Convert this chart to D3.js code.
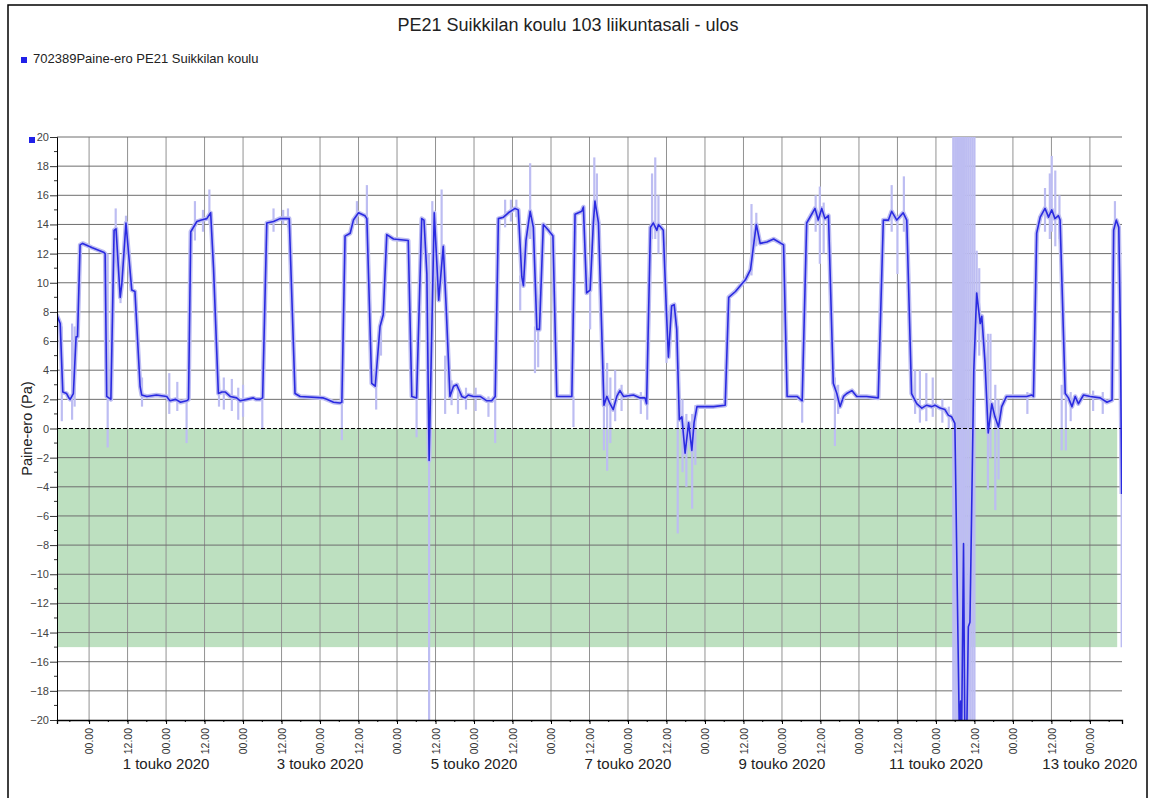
<!DOCTYPE html>
<html>
<head>
<meta charset="utf-8">
<script src="https://cdn.jsdelivr.net/npm/d3@7"></script>
<style>
  body { margin: 0; background: #fff; }
  svg { font-family: "Liberation Sans", Arial, sans-serif; }
</style>
</head>
<body>
<svg id="chart" width="1149" height="798"></svg>
<script>
// hours counted from 30.4.2020 00.00
var base = new Date(2020, 3, 30, 0, 0);
var startHour = -10, endHour = 322;

var title = "PE21 Suikkilan koulu 103 liikuntasali - ulos";
var seriesName = "702389Paine-ero PE21 Suikkilan koulu";
var yLabel = "Paine-ero (Pa)";
var yTicks = [20, 18, 16, 14, 12, 10, 8, 6, 4, 2, 0, -2, -4, -6, -8, -10, -12, -14, -16, -18, -20];
var dateLabels = [1, 3, 5, 7, 9, 11, 13];
var monthName = "touko";
var bandLimits = [0, -15];
var bandEndHour = 320.5;

// smoothed series: [hour, Pa]
var smooth = [
  [-10.1, 7.8], [-9.0, 7.2], [-8.2, 2.5], [-7.0, 2.4], [-6.3, 2.1], [-5.9, 2.0], [-4.9, 2.4], [-4.05, 6.3],
  [-3.6, 6.3], [-2.8, 12.6], [-2.0, 12.7], [1.0, 12.4], [4.5, 12.1], [5.0, 12.0], [5.5, 2.2], [6.8, 2.0],
  [7.8, 13.6], [8.4, 13.7], [9.7, 9.0], [10.2, 9.9], [11.5, 14.1], [13.3, 9.5], [14.3, 9.4], [15.9, 2.9],
  [16.4, 2.3], [18, 2.2], [21, 2.3], [24.2, 2.2], [25.2, 1.9], [27, 2.0], [28.5, 1.8], [30.4, 1.9],
  [31.0, 2.0], [31.7, 13.5], [33.6, 14.2], [35, 14.3], [36.7, 14.4], [37.9, 14.8], [38.8, 11], [40.3, 2.4],
  [41.4, 2.5], [42.5, 2.5], [44.0, 2.2], [46.0, 2.1], [47.1, 1.9], [49.2, 2.0], [51.2, 2.1], [52, 2.0],
  [53.3, 2.0], [54.1, 2.1], [55.4, 14.1], [57.5, 14.2], [59.5, 14.4], [62.4, 14.4], [64.2, 2.4], [65.8, 2.2],
  [73.0, 2.1], [74.1, 2.0], [76.2, 1.8], [78.2, 1.75], [78.8, 1.8], [79.8, 13.2], [81.4, 13.4], [82.4, 14.3],
  [84.0, 14.8], [86.0, 14.6], [86.6, 14.4], [88.1, 3.1], [89.2, 2.9], [90.7, 7.0], [91.7, 7.8], [92.8, 13.3],
  [94.9, 13.0], [99.5, 12.9], [100.6, 2.2], [102.1, 2.1], [103.7, 14.4], [104.4, 14.3], [105.3, 10.6], [106.0, -2.2],
  [107.6, 14.8], [109.0, 8.8], [110.4, 12.5], [111.3, 8.4], [112.5, 2.2], [113.6, 2.9], [114.6, 3.0], [116.2, 2.2],
  [117.2, 2.1], [118.2, 2.3], [119.8, 2.2], [121.9, 2.2], [124.0, 1.9], [125.5, 1.9], [126.6, 2.2], [127.6, 14.4],
  [129.2, 14.5], [130.7, 14.8], [132.8, 15.1], [133.8, 15.0], [134.9, 10.4], [135.4, 9.8], [136.2, 12.9], [137.5, 14.9],
  [138.5, 13.8], [139.6, 6.8], [140.4, 6.8], [141.6, 14.0], [143.2, 13.6], [144.6, 13.2], [145.8, 2.2], [150.5, 2.2],
  [151.5, 14.7], [153.6, 14.9], [154.1, 15.2], [155.1, 9.3], [156.2, 9.5], [157.2, 14.1], [157.7, 15.6], [158.8, 14.1],
  [159.8, 6.8], [160.5, 1.6], [161.4, 2.2], [162.4, 1.7], [163.4, 1.3], [164.5, 2.2], [165.5, 2.6], [166.6, 2.2],
  [169.7, 2.3], [171.8, 2.1], [173.3, 2.1], [173.8, 1.7], [175.0, 13.8], [175.9, 14.1], [177.0, 13.6], [177.5, 14.0],
  [179.0, 13.6], [180.0, 7.9], [180.6, 4.9], [181.6, 8.4], [182.4, 8.5], [183.2, 6.8], [184.0, 0.6], [184.8, 0.8],
  [185.8, -1.7], [186.9, 0.4], [187.9, -1.5], [188.6, 0.4], [189.5, 1.5], [191.6, 1.5], [194.7, 1.5], [198.3, 1.6],
  [199.4, 9.0], [201.5, 9.4], [203.0, 9.8], [204.6, 10.2], [206.2, 10.9], [207.1, 12.5], [208.0, 14.0], [209.2, 12.7],
  [211.3, 12.8], [213.4, 13.0], [216.5, 12.6], [217.6, 2.2], [220.7, 2.2], [222.3, 1.9], [223.7, 14.1], [226.3, 15.1],
  [227.3, 14.3], [228.4, 15.1], [229.4, 14.4], [230.5, 14.6], [232.0, 3.1], [233.1, 2.4], [234.1, 1.5], [235.2, 2.2],
  [236.2, 2.4], [237.8, 2.6], [239.3, 2.2], [242.4, 2.2], [246.0, 2.1], [247.6, 14.3], [249.2, 14.3], [250.2, 14.9],
  [251.8, 14.3], [253.8, 14.8], [254.9, 14.3], [256.4, 2.4], [258.0, 1.7], [259.6, 1.4], [261.1, 1.6], [262.7, 1.5],
  [263.7, 1.6], [265.3, 1.4], [266.8, 1.3], [267.9, 0.9], [268.9, 0.8], [269.9, 0.35], [271.3, -21], [271.7, -18.7],
  [272.0, -21], [272.6, -7.9], [273.0, -21], [273.6, -21], [274.1, -13.6], [274.6, -13.3], [275.8, 4.0], [276.7, 9.3],
  [277.8, 7.2], [278.3, 7.7], [279.3, 4.5], [280.3, -0.3], [281.4, 1.7], [282.4, 0.8], [283.5, 0.1], [284.5, 1.5],
  [286.0, 2.2], [288.1, 2.2], [292.3, 2.2], [293.8, 2.3], [294.4, 2.2], [295.4, 13.4], [296.5, 14.5], [298.0, 15.1],
  [299.1, 14.5], [300.1, 15.0], [301.1, 14.4], [302.2, 14.6], [302.7, 14.3], [304.3, 2.4], [305.3, 2.1], [306.4, 1.5],
  [307.4, 2.2], [308.4, 1.7], [310.0, 2.3], [312.1, 2.2], [315.2, 2.1], [317.3, 1.8], [318.9, 1.95], [319.4, 13.6],
  [320.2, 14.3], [321.0, 13.8], [321.5, 6.8], [321.9, -4.5]
];

// raw measurement scatter: [hour, low Pa, high Pa]
var rawSpikes = [
  [-10.0, 5.5, 9.7], [-8.5, 0.5, 7.0], [-5.3, 0.6, 7.2], [-4.5, 1.5, 7.0], [5.8, -1.3, 12.0], [8.3, 13.0, 15.1],
  [9.8, 8.6, 10], [11.5, 13.5, 14.6], [16.5, 1.5, 3.5], [25, 1.0, 3.8], [27.5, 1.2, 3.2], [30.4, -1.0, 2.0],
  [33, 12.9, 15.6], [35.5, 13.5, 15.0], [37.5, 14, 16.4], [40.5, 1.5, 3.6], [42, 1.3, 3.5], [44.5, 1.2, 3.4],
  [46.5, 0.6, 2.8], [48, 0.8, 3.0], [54, -0.1, 2.0], [57.5, 13.5, 15.1], [60.5, 14.0, 15.0], [62, 13.8, 15.1],
  [78.8, -0.8, 2.0], [83.5, 14.0, 15.6], [86.6, 14.0, 16.7], [89.5, 1.3, 3.0], [91, 5.0, 7.7], [102.1, -0.6, 2.0],
  [106.0, -21, 12], [107.0, 12, 15.6], [109.9, 12, 16.4], [111, 1.0, 5.0], [113, 1.6, 3.3], [115, 1.0, 3.1],
  [117.5, 1.3, 2.8], [120.5, 1.2, 2.8], [124.5, 0.8, 2.2], [126.6, -1.0, 2.2], [129.7, 13.8, 15.7], [131.5, 14.2, 15.7],
  [133.2, 14.5, 15.7], [134.4, 8.1, 10.5], [137.5, 13.0, 18.2], [139, 3.8, 7.0], [140, 4.2, 7.0], [151, 0.1, 2.2],
  [156.2, 6.8, 9.8], [157.5, 14, 18.6], [158.3, 14, 17.5], [160.5, -1.5, 4.0], [161.5, -2.9, 4.5], [162.5, -1.0, 3.5],
  [164, 0.5, 4.0], [166, 1.2, 3.0], [172, 1.0, 2.5], [174, 0.6, 2.0], [175.5, 13, 17.5], [176.5, 13, 18.6],
  [177.5, 12, 16.0], [180, 4.5, 8.0], [183.5, -7.2, 7.0], [185, -3.0, 2.0], [186.2, -4.0, 1.0], [188, -5.5, 1.0],
  [189, -2.5, 1.6], [206.5, 10.5, 15.4], [208, 12.5, 14.8], [222.3, 0.4, 2.0], [226.5, 13.5, 16.0], [227.8, 11.3, 16.6],
  [229, 12, 15.5], [232.5, -1.2, 3.5], [233.5, 1.0, 3.0], [250.2, 13.5, 16.7], [252, 10.6, 14.5], [254, 13.5, 17.3],
  [257.5, 1.0, 4.0], [259, 0.4, 4.0], [261, 0.5, 3.8], [263, 0.8, 3.5], [266, 0.4, 2.0], [268, 0.0, 1.5],
  [269.4, -21, 21], [270, -21, 21], [270.6, -21, 21], [271.2, -21, 21], [271.8, -21, 21], [272.4, -21, 21],
  [273, -21, 21], [273.6, -21, 21], [274.2, -21, 21], [274.8, -21, 21], [275.4, -21, 21], [276, -21, 21],
  [276.7, 9.0, 12.2], [277.5, 5.0, 11.0], [280.2, -4.2, 6.5], [281, -2.0, 6.5], [282.5, -5.6, 3.0], [283.5, -3.5, 2.0],
  [292.5, 1.0, 2.5], [298, 13.5, 16.5], [299.5, 13.0, 17.5], [300.1, 13.5, 18.7], [301.2, 12.5, 17.7], [302.5, 13.0, 16.0],
  [303.2, -1.5, 3.0], [304.5, -1.5, 2.5], [306, 0.5, 2.5], [313, 1.2, 2.6], [316, 1.0, 2.5], [319.8, 13.5, 15.6],
  [321.9, -15, 6]
];

function hourDate(h) { return new Date(base.getTime() + h * 3600000); }

var svg = d3.select("#chart");
var plotLeft = 57, plotRight = 1122, plotTop = 137, plotBottom = 720;

var x = d3.scaleTime()
    .domain([hourDate(startHour), hourDate(endHour)])
    .range([plotLeft, plotRight]);
var y = d3.scaleLinear()
    .domain([-20, 20])
    .range([plotBottom, plotTop]);

var blue = "#2a2ae0", lavender = "#bdbdf2";

svg.append("rect").attr("width", 1149).attr("height", 798).attr("fill", "#fff");

// title & legend
svg.append("text")
    .attr("x", 568).attr("y", 31)
    .attr("text-anchor", "middle")
    .style("font-size", "18px")
    .style("fill", "#222")
    .text(title);

svg.append("rect").attr("x", 21).attr("y", 57).attr("width", 6).attr("height", 6).attr("fill", "#2020e8");
svg.append("text")
    .attr("x", 33).attr("y", 63)
    .style("font-size", "13px")
    .style("fill", "#222")
    .text(seriesName);

svg.append("rect").attr("x", 29).attr("y", 137).attr("width", 6).attr("height", 6).attr("fill", "#2020e8");

// green band
svg.append("rect")
    .attr("x", plotLeft)
    .attr("y", y(bandLimits[0]))
    .attr("width", x(hourDate(bandEndHour)) - plotLeft)
    .attr("height", y(bandLimits[1]) - y(bandLimits[0]))
    .attr("fill", "#bde0c0");

// grid
var majorTimes = d3.timeHour.every(12).range(hourDate(startHour), hourDate(endHour));
var minorTimes = d3.timeHour.every(6).range(hourDate(startHour), hourDate(endHour));

svg.append("g")
    .selectAll("line")
    .data(majorTimes)
    .enter().append("line")
    .attr("x1", function (d) { return x(d); })
    .attr("x2", function (d) { return x(d); })
    .attr("y1", plotTop).attr("y2", plotBottom)
    .attr("stroke", "#929292")
    .attr("stroke-width", 1);

svg.append("g")
    .selectAll("line")
    .data(yTicks.filter(function (d) { return d !== 0 && d !== -20; }))
    .enter().append("line")
    .attr("x1", plotLeft).attr("x2", plotRight)
    .attr("y1", function (d) { return y(d); })
    .attr("y2", function (d) { return y(d); })
    .attr("stroke", "#6e6e6e")
    .attr("stroke-width", 1);

// data
svg.append("clipPath").attr("id", "clip")
    .append("rect").attr("x", plotLeft).attr("y", plotTop)
    .attr("width", plotRight - plotLeft).attr("height", plotBottom - plotTop);
var plot = svg.append("g").attr("clip-path", "url(#clip)");

var line = d3.line()
    .x(function (d) { return x(hourDate(d[0])); })
    .y(function (d) { return y(d[1]); });

plot.append("path")
    .datum(smooth)
    .attr("d", line)
    .attr("fill", "none")
    .attr("stroke", lavender)
    .attr("stroke-width", 4.5)
    .attr("stroke-linejoin", "round");

plot.append("g")
    .selectAll("line")
    .data(rawSpikes)
    .enter().append("line")
    .attr("x1", function (d) { return x(hourDate(d[0])); })
    .attr("x2", function (d) { return x(hourDate(d[0])); })
    .attr("y1", function (d) { return y(d[1]); })
    .attr("y2", function (d) { return y(d[2]); })
    .attr("stroke", lavender)
    .attr("stroke-width", 2.2);

// zero line
svg.append("line")
    .attr("x1", plotLeft).attr("x2", plotRight)
    .attr("y1", y(0)).attr("y2", y(0))
    .attr("stroke", "#000")
    .attr("stroke-width", 1.2)
    .attr("stroke-dasharray", "4,2");

var plot2 = svg.append("g").attr("clip-path", "url(#clip)");
plot2.append("path")
    .datum(smooth)
    .attr("d", line)
    .attr("fill", "none")
    .attr("stroke", blue)
    .attr("stroke-width", 1.6)
    .attr("stroke-linejoin", "round");

// y axis
var yAxis = d3.axisLeft(y)
    .tickValues(yTicks)
    .tickSize(7)
    .tickPadding(1)
    .tickFormat(d3.format("d"));
var gy = svg.append("g").attr("transform", "translate(" + plotLeft + ",0)").call(yAxis);
gy.select(".domain").attr("stroke", "#000");
gy.selectAll(".tick line").attr("stroke", "#333");
gy.selectAll("text").style("font-size", "11px").style("fill", "#444")
    .style("font-family", "'Liberation Sans', Arial, sans-serif");

var yMinor = d3.range(-19, 20, 2);
svg.append("g")
    .selectAll("line")
    .data(yMinor)
    .enter().append("line")
    .attr("x1", plotLeft - 3).attr("x2", plotLeft)
    .attr("y1", function (d) { return y(d); })
    .attr("y2", function (d) { return y(d); })
    .attr("stroke", "#333");

svg.append("text")
    .attr("transform", "translate(32," + y(0) + ") rotate(-90)")
    .attr("text-anchor", "middle")
    .style("font-size", "14.5px")
    .style("fill", "#222")
    .text(yLabel);

// x axis
var xAxis = d3.axisBottom(x)
    .tickValues(majorTimes)
    .tickSize(4)
    .tickFormat(d3.timeFormat("%H.%M"));
var gx = svg.append("g").attr("transform", "translate(0," + plotBottom + ")").call(xAxis);
gx.select(".domain").attr("stroke", "#000").attr("stroke-width", 1.3);
gx.selectAll(".tick line").attr("stroke", "#000");
gx.selectAll("text")
    .style("font-size", "10.5px")
    .style("fill", "#333")
    .style("font-family", "'Liberation Sans', Arial, sans-serif")
    .attr("text-anchor", "end")
    .attr("dy", "0.35em")
    .attr("transform", "rotate(-90)")
    .attr("x", -8)
    .attr("y", 0);

svg.append("g")
    .selectAll("line")
    .data(minorTimes)
    .enter().append("line")
    .attr("x1", function (d) { return x(d); })
    .attr("x2", function (d) { return x(d); })
    .attr("y1", plotBottom).attr("y2", plotBottom + 2)
    .attr("stroke", "#000");

svg.append("g")
    .selectAll("text")
    .data(dateLabels)
    .enter().append("text")
    .attr("x", function (d) { return x(new Date(2020, 4, d)); })
    .attr("y", 769)
    .attr("text-anchor", "middle")
    .style("font-size", "15px")
    .style("fill", "#222")
    .text(function (d) { return d + " " + monthName + " 2020"; });

// frame
svg.append("rect")
    .attr("x", 8).attr("y", 5)
    .attr("width", 1139).attr("height", 800)
    .attr("fill", "none")
    .attr("stroke", "#000")
    .attr("stroke-width", 1.5);
</script>
</body>
</html>
